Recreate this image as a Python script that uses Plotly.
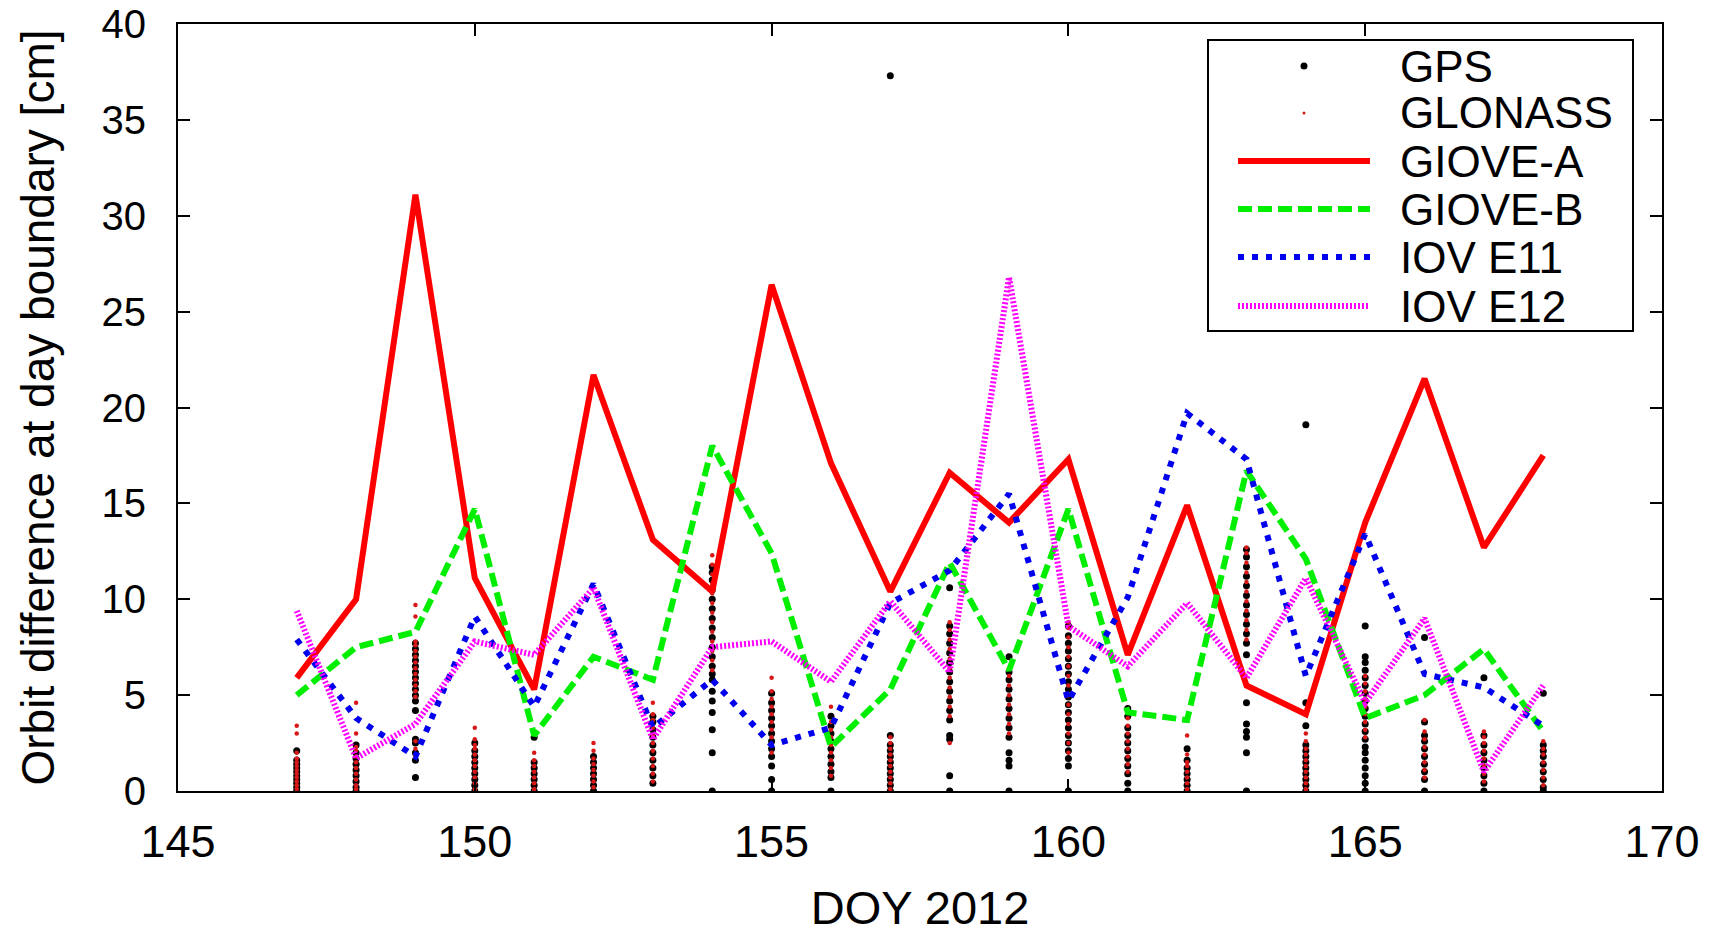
import plotly.graph_objects as go

days = list(range(147, 169))

giove_a = [5.9, 10.0, 31.1, 11.1, 5.3, 21.7, 13.1, 10.4, 26.4, 17.1, 10.4, 16.6, 14.0, 17.3, 7.1, 14.9, 5.5, 4.0, 14.0, 21.5, 12.7, 17.5]
giove_b = [5.0, 7.5, 8.3, 14.7, 2.9, 7.0, 5.8, 18.0, 12.4, 2.3, 5.3, 11.9, 6.3, 14.7, 4.1, 3.7, 16.7, 12.1, 3.8, 5.0, 7.4, 3.1]
iov_e11 = [7.9, 3.8, 1.8, 9.1, 4.4, 10.8, 3.3, 5.8, 2.4, 3.3, 9.8, 11.5, 15.5, 4.7, 10.1, 19.7, 17.3, 6.0, 13.4, 6.1, 5.4, 3.4]
iov_e12 = [9.4, 1.7, 3.5, 7.8, 7.1, 10.6, 2.7, 7.5, 7.8, 5.7, 9.9, 6.2, 26.8, 8.6, 6.5, 9.8, 5.9, 11.1, 4.6, 9.0, 1.0, 5.5]

gps = {
    147: [0.0, 0.2, 0.4, 0.6, 0.8, 1.0, 1.2, 1.4, 1.6, 2.1],
    148: [0.0, 0.2, 0.5, 0.8, 1.1, 1.4, 1.7, 2.0, 2.4],
    149: [0.7, 1.6, 2.0, 2.5, 2.7, 4.2, 4.7, 5.0, 5.3, 5.6, 5.9, 6.2, 6.5, 6.8, 7.1, 7.4, 7.7],
    150: [0.0, 0.3, 0.6, 0.9, 1.2, 1.5, 1.8, 2.1, 2.5],
    151: [0.0, 0.3, 0.6, 0.9, 1.2, 1.5, 2.8],
    152: [0.0, 0.3, 0.6, 0.9, 1.2, 1.5, 1.8],
    153: [0.4, 0.8, 1.2, 1.6, 2.0, 2.4, 2.8, 3.2, 3.6, 3.9],
    154: [0.0, 2.0, 3.2, 4.1, 4.7, 5.2, 5.8, 6.1, 6.5, 7.0, 7.5, 8.0, 8.5, 9.0, 9.5, 10.0, 10.5, 11.0, 11.4, 11.7],
    155: [0.0, 0.6, 1.3, 1.8, 2.2, 2.6, 3.0, 3.4, 3.8, 4.2, 4.6, 5.1],
    156: [0.0, 0.7, 1.0, 1.4, 1.8, 2.2, 2.6, 3.0, 3.4, 3.9],
    157: [0.0, 0.3, 0.6, 0.9, 1.2, 1.5, 1.8, 2.1, 2.4, 2.9, 37.3],
    158: [0.0, 0.8, 2.7, 2.9, 3.7, 4.2, 4.7, 5.2, 5.7, 6.2, 6.7, 7.2, 7.7, 8.2, 8.6, 10.6],
    159: [0.0, 1.3, 1.6, 2.0, 2.8, 3.3, 3.8, 4.3, 4.8, 5.3, 5.8, 6.2, 7.0],
    160: [0.0, 1.3, 1.7, 2.1, 2.5, 2.9, 3.3, 3.7, 4.1, 4.5, 4.9, 5.3, 5.7, 6.1, 6.5, 6.9, 7.3, 7.7, 8.1, 8.6],
    161: [0.0, 0.4, 0.9, 1.3, 1.7, 2.1, 2.5, 2.9, 3.3, 3.9, 4.3],
    162: [0.0, 0.3, 0.6, 0.9, 1.2, 1.6, 2.2],
    163: [0.0, 2.0, 2.8, 3.1, 3.5, 4.6, 7.1, 7.7, 8.2, 8.7, 9.2, 9.7, 10.2, 10.7, 11.2, 11.7, 12.2, 12.6],
    164: [0.0, 0.3, 0.6, 0.9, 1.2, 1.5, 1.8, 2.1, 2.4, 3.4, 4.6, 19.1],
    165: [0.0, 0.4, 0.8, 1.2, 1.6, 2.0, 2.3, 2.7, 3.1, 3.5, 3.9, 4.3, 4.7, 5.1, 5.5, 5.9, 6.3, 6.7, 7.0, 8.6],
    166: [0.0, 0.6, 1.0, 1.4, 1.8, 2.2, 2.6, 2.9, 3.6, 8.0],
    167: [0.0, 0.4, 0.8, 1.2, 1.6, 2.0, 2.4, 2.9, 5.9],
    168: [0.0, 0.2, 0.6, 1.0, 1.4, 1.8, 2.1, 2.4, 5.1],
}

glonass = {
    147: [0.1, 0.3, 0.5, 0.7, 0.9, 1.1, 1.3, 1.5, 1.7, 2.0, 3.0, 3.4],
    148: [0.1, 0.3, 0.6, 0.9, 1.2, 1.5, 1.8, 2.1, 2.3, 3.0, 4.6],
    149: [1.8, 2.2, 2.6, 4.9, 5.2, 5.5, 5.8, 6.1, 6.4, 6.7, 7.0, 7.3, 7.6, 7.8, 9.1, 9.7],
    150: [0.1, 0.4, 0.7, 1.0, 1.3, 1.6, 1.9, 2.2, 2.4, 2.7, 3.3],
    151: [0.1, 0.4, 0.7, 1.0, 1.3, 1.6, 2.0, 3.0],
    152: [0.2, 0.5, 0.8, 1.1, 1.4, 1.7, 2.1, 2.5],
    153: [0.5, 0.9, 1.3, 1.7, 2.1, 2.5, 2.9, 3.3, 3.7, 4.0, 4.6],
    154: [6.3, 6.8, 7.3, 7.8, 8.3, 8.8, 9.3, 9.8, 10.3, 10.8, 11.3, 11.8, 12.3],
    155: [2.0, 2.4, 2.8, 3.2, 3.6, 4.0, 4.4, 4.8, 5.2, 5.9],
    156: [0.8, 1.2, 1.6, 2.0, 2.4, 2.8, 3.2, 3.6, 4.4],
    157: [0.1, 0.4, 0.7, 1.0, 1.3, 1.6, 1.9, 2.2, 2.5, 2.8],
    158: [2.5, 3.9, 4.4, 4.9, 5.4, 5.9, 6.4, 6.9, 7.4, 7.9, 8.4, 8.8],
    159: [3.0, 3.5, 4.0, 4.5, 5.0, 5.5, 6.0, 6.4],
    160: [2.0, 2.5, 3.0, 3.5, 4.0, 4.5, 5.0, 5.5, 6.0, 6.5, 7.0, 7.5, 8.0, 8.5, 8.8],
    161: [1.0, 1.4, 1.8, 2.2, 2.6, 3.0, 3.4, 3.8, 4.1],
    162: [0.1, 0.4, 0.7, 1.0, 1.3, 1.5, 1.9, 2.9],
    163: [7.9, 8.4, 8.9, 9.4, 9.9, 10.4, 10.9, 11.4, 11.9, 12.4, 12.7],
    164: [0.1, 0.4, 0.7, 1.0, 1.3, 1.6, 1.9, 2.2, 2.6, 3.0],
    165: [2.8, 3.2, 3.6, 4.0, 4.4, 4.8, 5.2, 5.6, 6.0],
    166: [0.7, 1.1, 1.5, 1.9, 2.3, 2.7, 3.1, 3.7],
    167: [0.5, 0.9, 1.3, 1.7, 2.1, 2.5, 2.8, 3.1],
    168: [0.3, 0.7, 1.1, 1.5, 1.9, 2.2, 2.6],
}

x_ticks = [145, 150, 155, 160, 165, 170]
y_ticks = [0, 5, 10, 15, 20, 25, 30, 35, 40]

FONT = "Liberation Sans, Arial, sans-serif"

gps_x, gps_y = [], []
for d, vals in gps.items():
    gps_x += [d] * len(vals)
    gps_y += vals
glo_x, glo_y = [], []
for d, vals in glonass.items():
    glo_x += [d] * len(vals)
    glo_y += vals

fig = go.Figure()
fig.add_trace(go.Scatter(x=gps_x, y=gps_y, mode="markers", name="GPS",
                         marker=dict(color="black", size=7), showlegend=False))
fig.add_trace(go.Scatter(x=glo_x, y=glo_y, mode="markers", name="GLONASS",
                         marker=dict(color="#d81818", size=4.5), showlegend=False))

line_specs = [
    ("GIOVE-A", giove_a, "#ff0000", "solid", 6),
    ("GIOVE-B", giove_b, "#00ee00", "14px,6px", 6),
    ("IOV E11", iov_e11, "#0000ee", "6px,8px", 6),
    ("IOV E12", iov_e12, "#ff00ff", "2px,2px", 6),
]
for name, vals, col, dash, w in line_specs:
    fig.add_trace(go.Scatter(x=days, y=vals, mode="lines", name=name,
                             line=dict(color=col, dash=dash, width=w), showlegend=False))

# page body margin is removed by a post script, so no offset
OFF = 0
W, H = 1718, 934
L, R, T, B = 178 - OFF, 56 + OFF, 24 - OFF, 143 + OFF
pw, ph = W - L - R, H - T - B

def px(xp):
    return (xp - OFF - L) / pw

def py(yp):
    return 1 - (yp - OFF - T) / ph

shapes = []
annotations = []
# legend box
shapes.append(dict(type="rect", xref="paper", yref="paper",
                   x0=px(1208), x1=px(1633), y0=py(331), y1=py(40),
                   line=dict(color="black", width=2), fillcolor="white", layer="above"))
names = ["GPS", "GLONASS"] + [s[0] for s in line_specs]
ys = [66, 113, 161, 209, 257, 306]
for i, (nm, yc) in enumerate(zip(names, ys)):
    if i == 0:
        shapes.append(dict(type="circle", xref="paper", yref="paper",
                           x0=px(1300.5), x1=px(1307.5), y0=py(yc + 3.5), y1=py(yc - 3.5),
                           fillcolor="black", line=dict(width=0), layer="above"))
    elif i == 1:
        shapes.append(dict(type="circle", xref="paper", yref="paper",
                           x0=px(1302.5), x1=px(1305.5), y0=py(yc + 1.5), y1=py(yc - 1.5),
                           fillcolor="#d81818", line=dict(width=0), layer="above"))
    else:
        _, _, col, dash, w = line_specs[i - 2]
        shapes.append(dict(type="line", xref="paper", yref="paper",
                           x0=px(1238), x1=px(1370), y0=py(yc), y1=py(yc),
                           line=dict(color=col, dash=dash, width=w), layer="above"))
    annotations.append(dict(text=nm, xref="paper", yref="paper", x=px(1398), y=py(yc),
                            xanchor="left", yanchor="middle", showarrow=False,
                            font=dict(family=FONT, size=44, color="black")))

fig.update_layout(
    width=W, height=H,
    margin=dict(l=L, r=R, t=T, b=B),
    paper_bgcolor="white", plot_bgcolor="white",
    font=dict(family=FONT, size=44, color="black"),
    shapes=shapes, annotations=annotations,
    xaxis=dict(range=[145, 170], tickvals=x_ticks, ticktext=[str(v) for v in x_ticks],
               ticks="inside", ticklen=12, tickwidth=2, tickcolor="black",
               showline=True, linecolor="black", linewidth=2, mirror="ticks",
               showgrid=False, zeroline=False, ticklabelstandoff=10, automargin=False,
               ticklabeloverflow="allow", tickfont=dict(size=45),
               title=dict(text="DOY 2012", standoff=26, font=dict(size=47))),
    yaxis=dict(range=[0, 40], tickvals=y_ticks, ticktext=[str(v) for v in y_ticks],
               ticks="inside", ticklen=12, tickwidth=2, tickcolor="black",
               showline=True, linecolor="black", linewidth=2, mirror="ticks",
               showgrid=False, zeroline=False, ticklabelstandoff=22, automargin=False,
               ticklabeloverflow="allow", tickfont=dict(size=40),
               title=dict(text="Orbit difference at day boundary [cm]", standoff=32, font=dict(size=46))),
)

fig.write_html("out.html", config={"displayModeBar": False},
               post_script="document.body.style.margin='0px';")
